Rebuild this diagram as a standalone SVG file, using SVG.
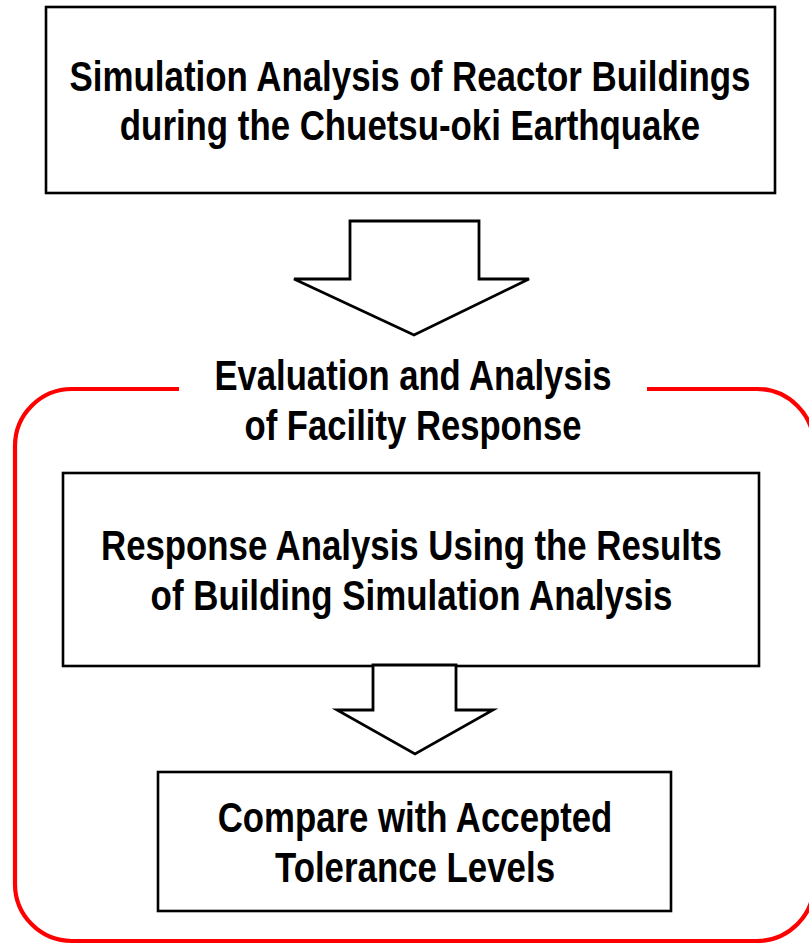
<svg xmlns="http://www.w3.org/2000/svg" width="809" height="944" viewBox="0 0 809 944">
  <style>
    .box { fill: #fff; stroke: #000; stroke-width: 2.6; }
    .arrow { fill: #fff; stroke: #000; stroke-width: 2.8; stroke-linejoin: miter; }
    .frame { fill: none; stroke: #ff0000; stroke-width: 4.2; }
    .t { font-family: "Liberation Sans", Arial, sans-serif; font-weight: bold; font-size: 43px; fill: #000; text-anchor: middle; }
  </style>
  <rect width="809" height="944" fill="#fff"/>
  <g id="group-frame">
    <path class="frame" d="M179,389 H72 A57,57 0 0 0 15,446 V884 A57,57 0 0 0 72,941 H757 A57,57 0 0 0 814,884 V446 A57,57 0 0 0 757,389 H647"/>
    <g transform="translate(413,0) scale(0.78,1)">
      <text class="t" x="0" y="390" textLength="509" lengthAdjust="spacingAndGlyphs">Evaluation and Analysis</text>
      <text class="t" x="0" y="440" textLength="432" lengthAdjust="spacingAndGlyphs">of Facility Response</text>
    </g>
  </g>
  <g id="node-simulation">
    <rect class="box" x="46" y="7" width="729" height="186"/>
    <g transform="translate(410,0) scale(0.78,1)">
      <text class="t" x="0" y="91" textLength="873" lengthAdjust="spacingAndGlyphs">Simulation Analysis of Reactor Buildings</text>
      <text class="t" x="0" y="140" textLength="744" lengthAdjust="spacingAndGlyphs">during the Chuetsu-oki Earthquake</text>
    </g>
  </g>
  <g id="node-response">
    <rect class="box" x="63" y="473" width="696" height="193"/>
    <g transform="translate(411.5,0) scale(0.78,1)">
      <text class="t" x="0" y="560" textLength="796" lengthAdjust="spacingAndGlyphs">Response Analysis Using the Results</text>
      <text class="t" x="0" y="610" textLength="669" lengthAdjust="spacingAndGlyphs">of Building Simulation Analysis</text>
    </g>
  </g>
  <g id="node-compare">
    <rect class="box" x="158" y="772" width="513" height="139"/>
    <g transform="translate(415,0) scale(0.78,1)">
      <text class="t" x="0" y="832" textLength="506" lengthAdjust="spacingAndGlyphs">Compare with Accepted</text>
      <text class="t" x="0" y="882" textLength="359" lengthAdjust="spacingAndGlyphs">Tolerance Levels</text>
    </g>
  </g>
  <g id="connectors">
    <polygon class="arrow" points="350,221 479,221 479,279 529,279 414,335 294,279 350,279"/>
    <polygon class="arrow" points="373,665 456,665 456,710 493,710 415,754 337,710 373,710"/>
  </g>
</svg>
